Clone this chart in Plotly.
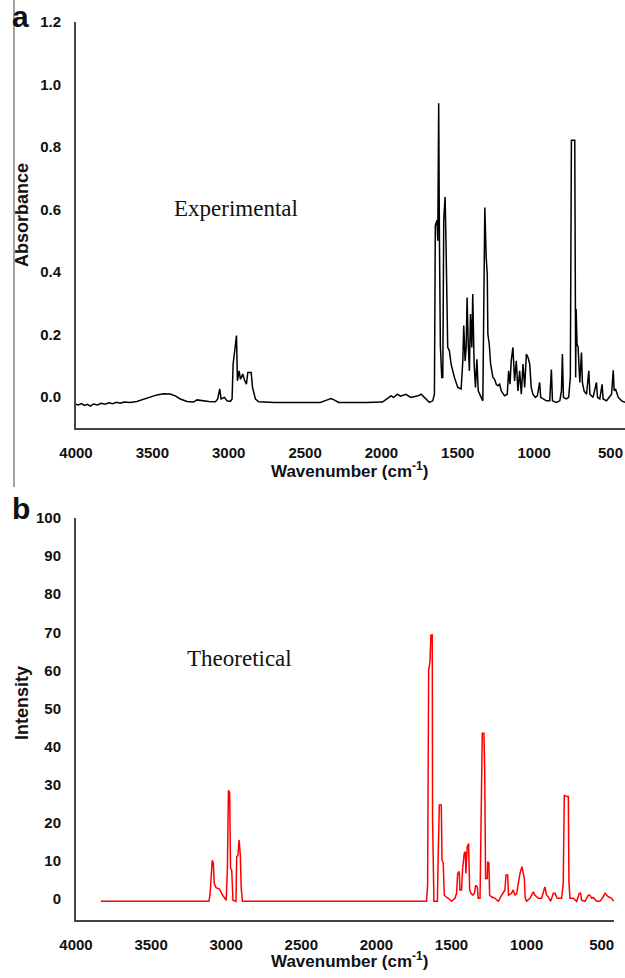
import plotly.graph_objects as go

# ---------------- data ----------------
exp_wn = [4000, 3985, 3965, 3945, 3925, 3905, 3885, 3860, 3835, 3810, 3785, 3760, 3735, 3710, 3685, 3660,
          3645, 3602, 3558, 3514, 3470, 3427, 3383, 3350, 3317, 3273, 3230, 3208, 3175, 3131, 3087, 3072,
          3059, 3050, 3028, 3011, 2989, 2978, 2971, 2962, 2949, 2943, 2932, 2923, 2908, 2895, 2884, 2875,
          2853, 2844, 2825, 2803, 2700, 2500, 2400, 2354, 2330, 2310, 2280, 2100, 1995, 1982, 1960, 1938,
          1920, 1895, 1875, 1840, 1808, 1760, 1740, 1718, 1686, 1664, 1653, 1647, 1636, 1631, 1625, 1620,
          1614, 1605, 1598, 1592, 1583, 1577, 1572, 1566, 1555, 1544, 1522, 1500, 1478, 1467, 1461, 1452,
          1445, 1439, 1432, 1424, 1417, 1408, 1402, 1393, 1384, 1375, 1366, 1358, 1347, 1336, 1329, 1323,
          1314, 1307, 1303, 1294, 1285, 1270, 1259, 1248, 1237, 1226, 1215, 1194, 1176, 1167, 1158, 1150,
          1139, 1128, 1117, 1106, 1095, 1084, 1073, 1062, 1051, 1040, 1029, 1019, 1008, 992, 979, 964,
          957, 942, 920, 898, 887, 880, 854, 832, 821, 815, 808, 789, 774, 763, 756, 734, 728, 725,
          719, 712, 701, 690, 684, 673, 657, 642, 635, 614, 592, 585, 570, 555, 548, 526, 493, 482,
          476, 467, 449, 427, 405]
exp_abs = [-0.024, -0.026, -0.022, -0.028, -0.024, -0.030, -0.023, -0.026, -0.021, -0.024, -0.019, -0.022, -0.018, -0.021, -0.017, -0.019,
           -0.018, -0.015, -0.008, -0.001, 0.006, 0.010, 0.009, 0.003, -0.007, -0.015, -0.017, -0.010, -0.013, -0.015, -0.016, -0.007,
           0.025, -0.007, -0.002, -0.013, -0.015, -0.007, 0.105, 0.137, 0.196, 0.051, 0.083, 0.056, 0.073, 0.051, 0.040, 0.078,
           0.078, 0.030, -0.007, -0.016, -0.018, -0.018, -0.018, -0.010, -0.006, -0.010, -0.018, -0.018, -0.017, -0.013, -0.006, 0.003,
           -0.002, 0.008, 0.002, 0.008, -0.002, 0.003, 0.008, -0.002, -0.018, -0.013, 0.008, 0.549, 0.565, 0.500, 0.940, 0.500,
           0.164, 0.062, 0.062, 0.565, 0.640, 0.490, 0.254, 0.158, 0.148, 0.105, 0.062, 0.030, 0.025, 0.115, 0.228, 0.115,
           0.158, 0.318, 0.180, 0.083, 0.265, 0.158, 0.329, 0.105, 0.030, 0.120, 0.019, 0.008, -0.002, -0.013, 0.254, 0.606,
           0.447, 0.393, 0.201, 0.169, 0.105, 0.062, 0.056, 0.040, 0.035, 0.040, 0.019, 0.003, 0.008, 0.083, 0.040, 0.115,
           0.158, 0.051, 0.115, 0.019, 0.083, 0.008, 0.105, 0.030, 0.137, 0.126, 0.105, 0.030, 0.008, -0.002, 0.003, 0.046,
           -0.002, -0.007, -0.013, -0.013, 0.087, -0.013, -0.018, -0.013, 0.019, 0.137, -0.002, -0.007, -0.002, 0.062, 0.821, 0.821, 0.062, 0.281,
           0.169, 0.158, 0.046, 0.142, 0.046, 0.019, 0.008, 0.083, 0.008, -0.002, 0.046, -0.002, -0.007, 0.040, -0.007, -0.013, 0.008, 0.085,
           0.019, 0.025, -0.002, -0.013, -0.018]

theo_wn = [3834, 3115, 3108, 3100, 3093, 3086, 3079, 3068, 3045, 3020, 3000, 2992, 2985, 2977, 2971, 2963,
           2955, 2935, 2930, 2922, 2914, 2906, 2900, 2892, 1666, 1659, 1652, 1643, 1637, 1628, 1626, 1617,
           1594, 1588, 1581, 1568, 1563, 1555, 1548, 1537, 1521, 1499, 1477, 1466, 1459, 1448, 1444, 1433,
           1426, 1415, 1408, 1404, 1395, 1386, 1379, 1370, 1359, 1348, 1339, 1328, 1322, 1310, 1304, 1295,
           1284, 1279, 1273, 1262, 1259, 1251, 1246, 1233, 1211, 1188, 1166, 1144, 1137, 1126, 1120, 1100,
           1089, 1077, 1066, 1053, 1044, 1031, 1022, 1015, 1009, 1000, 978, 955, 944, 922, 900, 878,
           867, 856, 840, 822, 811, 796, 767, 756, 749, 734, 722, 718, 711, 689, 667, 649,
           640, 634, 611, 589, 578, 567, 556, 534, 512, 489, 478, 456, 434, 420]
theo_int = [-0.6, -0.6, 1.0, 6.0, 10.2, 9.5, 4.0, 3.0, 2.6, 0.8, -0.3, 8.0, 28.5, 28.0, 8.1, 7.5,
            -0.3, -0.6, 11.1, 11.5, 15.5, 11.5, 3.0, -0.6, -0.6, 3.6, 60.1, 62.3, 69.3, 69.3, 21.2, -0.6,
            -0.6, 12.0, 24.7, 24.7, 10.2, 9.4, 1.0, 0.6, 0.2, -0.6, 0.2, 1.5, 6.7, 7.2, 2.4, 2.4,
            8.0, 12.0, 12.4, 6.7, 13.7, 14.6, 2.4, 1.5, 1.0, 1.5, 3.6, 3.2, 0.2, 0.2, 21.6, 43.5,
            43.5, 34.3, 5.4, 5.4, 9.8, 9.4, 1.0, 0.6, 0.2, -0.6, 1.0, 2.4, 6.3, 6.3, 1.0, 1.5,
            2.4, 1.0, 1.5, 5.0, 6.7, 8.5, 6.7, 5.4, 0.2, -0.6, 0.2, 1.9, 1.0, 0.2, 0.2, 3.2,
            1.0, 0.6, -0.6, 1.5, 1.5, 0.2, 0.2, 4.0, 27.3, 26.9, 26.9, 4.5, 0.2, 0.2, -0.6, 1.5,
            1.5, -0.3, -0.6, 1.0, 1.0, 0.2, 0.4, -0.6, -0.6, 0.6, 1.5, 0.6, 0.2, -0.6]

x_ticks = [4000, 3500, 3000, 2500, 2000, 1500, 1000, 500]
abs_ticks = [0.0, 0.2, 0.4, 0.6, 0.8, 1.0, 1.2]
int_ticks = [0, 10, 20, 30, 40, 50, 60, 70, 80, 90, 100]

# ---------------- figure ----------------
W, H = 625, 978
SANS = "Liberation Sans, Arial, sans-serif"
SERIF = "Liberation Serif, Times New Roman, serif"
tickfont = dict(family=SANS, size=15, color="#111", weight="bold")

fig = go.Figure()
fig.add_trace(go.Scatter(x=exp_wn, y=exp_abs, mode="lines",
                         line=dict(color="black", width=1.5), xaxis="x", yaxis="y",
                         showlegend=False, hoverinfo="skip"))
fig.add_trace(go.Scatter(x=theo_wn, y=theo_int, mode="lines",
                         line=dict(color="#ff0000", width=1.5), xaxis="x2", yaxis="y2",
                         showlegend=False, hoverinfo="skip"))

def px_x(p):
    return p / W

def px_y(p):
    return 1 - p / H

axis_common = dict(showgrid=False, zeroline=False, showline=True, linecolor="#444",
                   linewidth=2, ticks="", tickfont=tickfont, ticklabelstandoff=10,
                   automargin=False)

fig.update_layout(
    width=W, height=H,
    margin=dict(l=0, r=0, t=0, b=0, autoexpand=False),
    paper_bgcolor="white", plot_bgcolor="white",
    xaxis=dict(domain=[px_x(76), px_x(625)], range=[4000, 405], anchor="y",
               tickvals=x_ticks, ticktext=[str(v) for v in x_ticks], **axis_common),
    yaxis=dict(domain=[px_y(428), px_y(22)], range=[-0.1, 1.2], anchor="x",
               tickvals=abs_ticks, ticktext=[f"{v:.1f}" for v in abs_ticks], **axis_common),
    xaxis2=dict(domain=[px_x(76), px_x(614)], range=[4000, 418], anchor="y2",
                tickvals=x_ticks, ticktext=[str(v) for v in x_ticks], **axis_common),
    yaxis2=dict(domain=[px_y(920), px_y(518)], range=[-5.5, 100], anchor="x2",
                tickvals=int_ticks, ticktext=[str(v) for v in int_ticks], **axis_common),
)

ann = []
def add_text(text, x, y, size, family=SANS, bold=True, angle=0, xanchor="center", yanchor="middle"):
    ann.append(dict(text=text, x=px_x(x), y=px_y(y), xref="paper", yref="paper",
                    showarrow=False, textangle=angle, xanchor=xanchor, yanchor=yanchor,
                    font=dict(family=family, size=size, color="#111",
                              weight="bold" if bold else "normal")))

add_text("a", 20, 16, 30)
add_text("b", 21, 509, 30)
add_text("Absorbance", 22, 215, 18, angle=-90)
add_text("Intensity", 22, 703, 18, angle=-90)
add_text("Wavenumber (cm<sup>-1</sup>)", 349, 470, 17)
add_text("Wavenumber (cm<sup>-1</sup>)", 349, 960, 17)
add_text("Experimental", 172, 208, 23, family=SERIF, bold=False, xanchor="left")
add_text("Theoretical", 185, 658, 23, family=SERIF, bold=False, xanchor="left")
fig.update_layout(annotations=ann)

# left border line from the source page
fig.add_shape(type="line", xref="paper", yref="paper",
              x0=px_x(14), x1=px_x(14), y0=px_y(0), y1=px_y(487),
              line=dict(color="#666", width=1.2))

fig.write_html("out.html", config={"displayModeBar": False, "staticPlot": True},
               post_script="document.body.style.margin='0';document.body.style.overflow='hidden';")
